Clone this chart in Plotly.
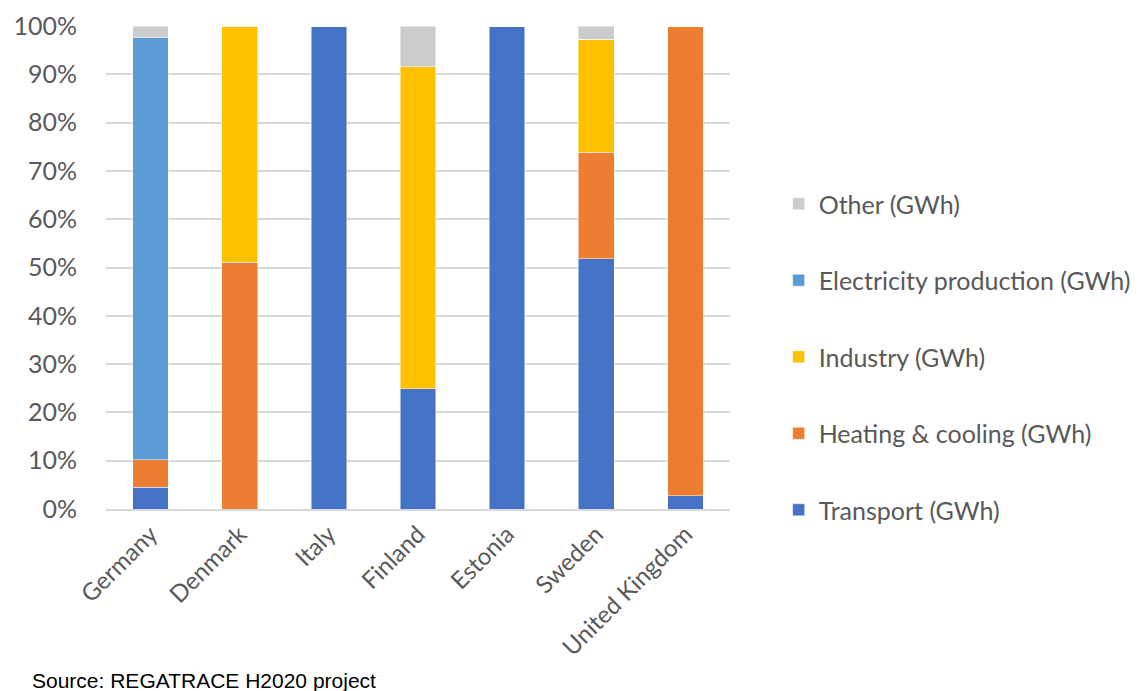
import plotly.graph_objects as go

countries = ["Germany", "Denmark", "Italy", "Finland", "Estonia", "Sweden", "United Kingdom"]
transport = [4.5, 0.0, 100.0, 24.9, 100.0, 51.8, 2.7]
heating = [5.7, 51.1, 0.0, 0.0, 0.0, 22.1, 97.3]
industry = [0.0, 48.9, 0.0, 66.7, 0.0, 23.4, 0.0]
electricity = [87.4, 0.0, 0.0, 0.0, 0.0, 0.0, 0.0]
other = [2.4, 0.0, 0.0, 8.4, 0.0, 2.7, 0.0]
y_ticks = [0, 10, 20, 30, 40, 50, 60, 70, 80, 90, 100]
y_tick_labels = [f"{v}%" for v in y_ticks]

series = [
    ("Transport (GWh)", transport, "#4472C4"),
    ("Heating & cooling (GWh)", heating, "#ED7D31"),
    ("Industry (GWh)", industry, "#FFC000"),
    ("Electricity production (GWh)", electricity, "#5B9BD5"),
    ("Other (GWh)", other, "#CCCCCC"),
]

FONT = "Lato"
GREY = "#595959"

fig = go.Figure()
n = len(series)
for i, (name, vals, color) in enumerate(series):
    fig.add_trace(go.Bar(
        x=countries, y=vals, name=name,
        marker=dict(color=color, line=dict(color="rgba(255,255,255,0.6)", width=0.8)),
        legendgroup=str(i), legendrank=n - i,
    ))

fig.update_layout(
    width=1140, height=683,
    barmode="stack", bargap=0.6,
    plot_bgcolor="white", paper_bgcolor="white",
    margin=dict(l=98, r=418, t=18, b=182, autoexpand=False),
    font=dict(family=FONT, color=GREY, size=23),
    showlegend=True,
    legend=dict(
        x=1.078, xanchor="left", y=0.679, yanchor="top",
        traceorder="grouped", tracegroupgap=41,
        font=dict(family=FONT, size=25, color=GREY),
        itemwidth=30,
    ),
    xaxis=dict(
        tickangle=-45, tickfont=dict(size=24, color=GREY, family=FONT),
        showgrid=False, showline=True, linecolor="#d9d9d9", linewidth=1.5,
        ticks="", automargin=False,
    ),
    yaxis=dict(
        range=[0, 100], tickvals=y_ticks, ticktext=y_tick_labels,
        showgrid=True, gridcolor="#d9d9d9", gridwidth=1.5,
        zeroline=False, showline=False, ticks="",
        tickfont=dict(size=25, color=GREY, family=FONT),
        ticklabelstandoff=28, automargin=False, ticklabeloverflow="allow",
    ),
    annotations=[dict(
        text="Source: REGATRACE H2020 project",
        xref="paper", yref="paper", x=-0.122, y=-0.327,
        xanchor="left", yanchor="top", showarrow=False,
        font=dict(family="Liberation Sans", size=21, color="black"),
    )],
)

fig.write_html("out.html")
